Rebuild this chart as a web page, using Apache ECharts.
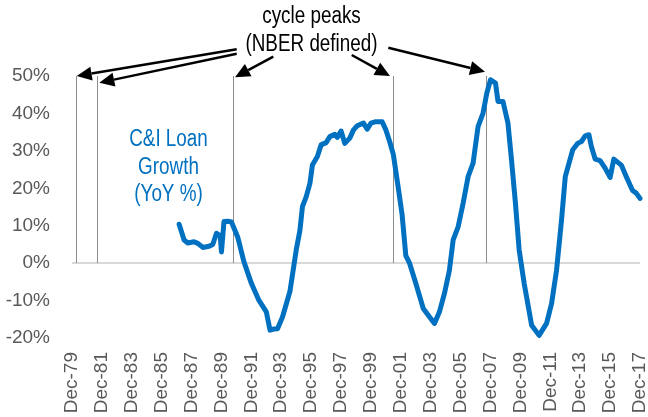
<!DOCTYPE html>
<html>
<head>
<meta charset="utf-8">
<script src="https://cdn.jsdelivr.net/npm/echarts@6/dist/echarts.min.js"></script>
<style>
  html, body { margin: 0; padding: 0; background: #fff; }
  #chart { width: 648px; height: 417px; }
</style>
</head>
<body>
<div id="chart"></div>
<script>
// x axis = months since Dec-79, one label every 2 years
const tickLabels = ['Dec-79', 'Dec-81', 'Dec-83', 'Dec-85', 'Dec-87', 'Dec-89', 'Dec-91', 'Dec-93',
    'Dec-95', 'Dec-97', 'Dec-99', 'Dec-01', 'Dec-03', 'Dec-05', 'Dec-07', 'Dec-09', 'Dec-11',
    'Dec-13', 'Dec-15', 'Dec-17'];

// C&I loan growth, YoY %
const dates = ['1987-02', '1987-06', '1987-09', '1988-02', '1988-05', '1988-09', '1989-02', '1989-05',
    '1989-08', '1989-11', '1989-12', '1990-02', '1990-05', '1990-08', '1991-01', '1991-06', '1991-12',
    '1992-06', '1992-12', '1993-03', '1993-06', '1993-09', '1994-01', '1994-07', '1994-12', '1995-03',
    '1995-05', '1995-08', '1995-11', '1996-01', '1996-05', '1996-08', '1996-12', '1997-03', '1997-07',
    '1997-09', '1997-12', '1998-03', '1998-07', '1998-10', '1999-01', '1999-06', '1999-09', '1999-12',
    '2000-04', '2000-09', '2000-12', '2001-03', '2001-06', '2001-10', '2002-01', '2002-04', '2002-07',
    '2002-12', '2003-06', '2003-10', '2004-03', '2004-07', '2004-11', '2005-03', '2005-06', '2005-10',
    '2006-02', '2006-06', '2006-10', '2007-02', '2007-06', '2007-09', '2007-12', '2008-04', '2008-06',
    '2008-10', '2009-02', '2009-05', '2009-08', '2009-11', '2010-03', '2010-09', '2011-03', '2011-09',
    '2012-01', '2012-05', '2012-09', '2012-12', '2013-03', '2013-06', '2013-10', '2014-01', '2014-04',
    '2014-07', '2014-09', '2014-12', '2015-04', '2015-08', '2015-12', '2016-03', '2016-09', '2017-01',
    '2017-06', '2017-09', '2017-12'];
const growth = [10.4, 6.2, 5.4, 5.7, 5.3, 4.2, 4.5, 5.0,
    8.0, 7.3, 3.0, 11.1, 11.2, 11.0, 7.0, 0.4, -5.4,
    -9.9, -13.0, -17.9, -17.6, -17.5, -14.4, -7.5, 3.5, 8.8,
    15.1, 17.7, 21.3, 26.2, 28.5, 31.6, 32.2, 33.8, 34.4,
    33.6, 35.3, 32.0, 33.4, 35.6, 36.7, 37.4, 35.8, 37.4,
    37.8, 37.8, 35.6, 32.5, 29.0, 20.0, 13.0, 2.0, 0.0,
    -5.4, -12.1, -13.9, -16.1, -13.0, -8.1, -1.9, 6.2, 9.7,
    16.0, 23.1, 26.7, 36.5, 40.1, 45.4, 49.0, 48.1, 43.2,
    43.2, 37.4, 27.0, 16.0, 3.5, -5.4, -16.6, -19.3, -16.1,
    -10.8, -1.9, 11.5, 23.1, 26.7, 30.3, 32.0, 32.5, 34.0,
    34.3, 31.1, 27.8, 27.4, 25.4, 22.9, 27.8, 26.2, 23.1,
    19.4, 18.7, 17.3];

// cycle peak lines, where they sit on the picture
const peakDates = ['1980-03', '1981-08', '1990-09', '2001-06', '2007-08'];

function toMonth(d) {
    const [y, m] = d.split('-').map(Number);
    return (y * 12 + m - 1) - (1979 * 12 + 11);
}

const font = '"Liberation Sans", Arial, sans-serif';

function arrow(x1, y1, x2, y2) {
    const a = Math.atan2(y2 - y1, x2 - x1);
    const len = 15, half = 7;
    const bx = x2 - len * Math.cos(a), by = y2 - len * Math.sin(a);
    return [{
        type: 'line',
        shape: {x1: x1, y1: y1, x2: bx, y2: by},
        style: {stroke: '#000', lineWidth: 2.5}
    }, {
        type: 'polygon',
        shape: {points: [[x2, y2],
            [bx + half * Math.sin(a), by - half * Math.cos(a)],
            [bx - half * Math.sin(a), by + half * Math.cos(a)]]},
        style: {fill: '#000'}
    }];
}

const chart = echarts.init(document.getElementById('chart'));
chart.setOption({
    animation: false,
    grid: {left: 72, right: 8, top: 76, bottom: 79, outerBoundsMode: 'none'},
    xAxis: {
        type: 'value',
        min: 0,
        max: 456,
        interval: 24,
        axisLine: {show: false},
        axisTick: {show: false},
        splitLine: {show: false},
        axisLabel: {
            rotate: 90,
            margin: 14,
            color: '#595959',
            fontFamily: font,
            fontSize: 19,
            formatter: (v) => tickLabels[v / 24]
        }
    },
    yAxis: {
        type: 'value',
        min: -20,
        max: 50,
        interval: 10,
        axisLine: {show: false},
        axisTick: {show: false},
        splitLine: {show: false},
        axisLabel: {
            margin: 22,
            color: '#595959',
            fontFamily: font,
            fontSize: 19,
            formatter: '{value}%'
        }
    },
    series: [{
        type: 'line',
        data: dates.map((d, i) => [toMonth(d), growth[i]]),
        showSymbol: false,
        lineStyle: {color: '#0070C0', width: 5, join: 'round', cap: 'round'},
        z: 5,
        markLine: {
            silent: true,
            symbol: 'none',
            label: {show: false},
            lineStyle: {type: 'solid'},
            data: [
                [{coord: [0, 0], lineStyle: {color: '#d9d9d9', width: 2, type: 'solid'}}, {coord: [456, 0]}]
            ].concat(peakDates.map((d) => [
                {coord: [toMonth(d) + 0.2, 0], lineStyle: {color: '#8c8c8c', width: 1, type: 'solid'}},
                {coord: [toMonth(d) + 0.2, 50]}
            ]))
        }
    }],
    graphic: [
        {
            type: 'text', x: 168.5, y: 126, scaleX: 0.82, z: 10,
            style: {
                text: 'C&I Loan\nGrowth\n(YoY %)', fill: '#0070C0', font: '23px ' + font,
                align: 'center', lineHeight: 27.5
            }
        },
        {
            type: 'text', x: 311.5, y: 3, scaleX: 0.82, z: 10,
            style: {
                text: 'cycle peaks\n(NBER defined)', fill: '#000', font: '23px ' + font,
                align: 'center', lineHeight: 28
            }
        }
    ].concat(
        arrow(236.7, 49.3, 76.7, 76),
        arrow(236.7, 53.7, 99.3, 82.7),
        arrow(273.3, 56.7, 235, 77.3),
        arrow(351.7, 55, 390, 76),
        arrow(388.3, 47.7, 485, 71.7)
    )
});
</script>
</body>
</html>
